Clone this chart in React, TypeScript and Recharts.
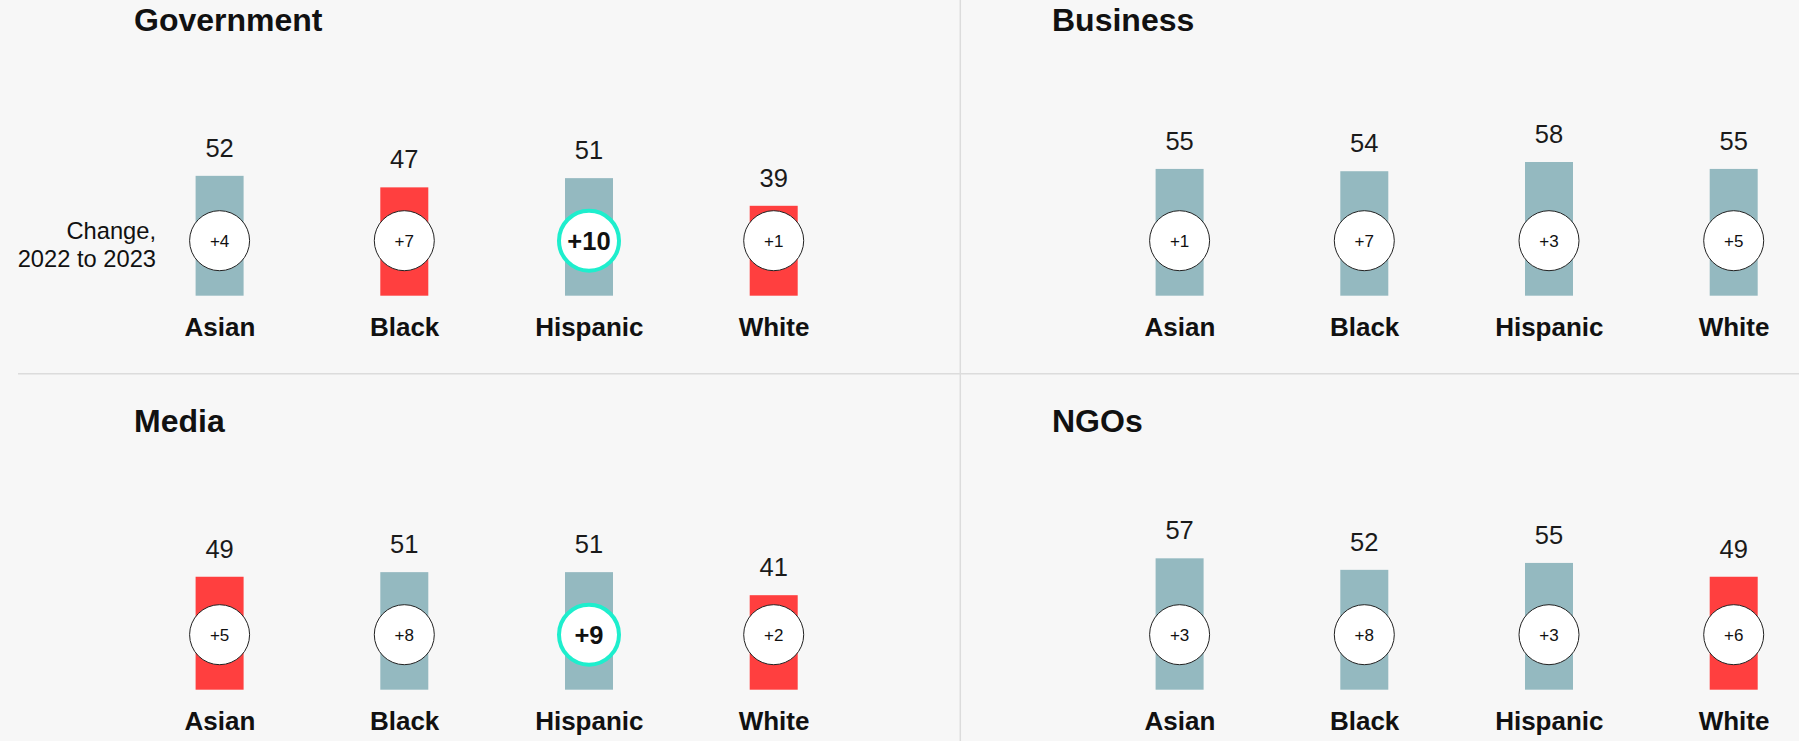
import React from 'react';
import { BarChart, Bar, XAxis, YAxis } from 'recharts';

const categories = ['Asian', 'Black', 'Hispanic', 'White'];

const governmentTrust = [52, 47, 51, 39];
const governmentChange = [4, 7, 10, 1];
const businessTrust = [55, 54, 58, 55];
const businessChange = [1, 7, 3, 5];
const mediaTrust = [49, 51, 51, 41];
const mediaChange = [5, 8, 9, 2];
const ngosTrust = [57, 52, 55, 49];
const ngosChange = [3, 8, 3, 6];

const governmentHighlight = ['Hispanic'];
const businessHighlight: string[] = [];
const mediaHighlight = ['Hispanic'];
const ngosHighlight: string[] = [];

const TRUST_THRESHOLD = 50;

const FONT = '"Liberation Sans", Arial, Helvetica, sans-serif';
const TEAL = '#94b9c0';
const RED = '#ff3f3f';
const MINT = '#1eeecd';
const BG = '#f7f7f7';
const DIVIDER = '#dcdcdc';

type Row = { name: string; value: number; change: number; highlight: boolean };

function buildRows(values: number[], changes: number[], highlight: string[]): Row[] {
  return categories.map((name, i) => ({
    name,
    value: values[i],
    change: changes[i],
    highlight: highlight.includes(name),
  }));
}

const BarShape = (props: any) => {
  const { x, y, width, height, payload } = props;
  const cx = x + width / 2;
  const bottom = y + height;
  const cy = bottom - 55;
  const fill = payload.value < TRUST_THRESHOLD ? RED : TEAL;
  return (
    <g>
      <rect x={x} y={y} width={width} height={height} fill={fill} />
      <text
        x={cx}
        y={y - 19}
        textAnchor="middle"
        fontFamily={FONT}
        fontSize={25.5}
        fill="#1a1a1a"
      >
        {payload.value}
      </text>
      {payload.highlight ? (
        <g>
          <circle cx={cx} cy={cy} r={30} fill="#ffffff" stroke={MINT} strokeWidth={4} />
          <text
            x={cx}
            y={cy + 9}
            textAnchor="middle"
            fontFamily={FONT}
            fontSize={25.5}
            fontWeight="bold"
            fill="#111"
          >
            {'+' + payload.change}
          </text>
        </g>
      ) : (
        <g>
          <circle cx={cx} cy={cy} r={30} fill="#ffffff" stroke="#222" strokeWidth={1} />
          <text
            x={cx}
            y={cy + 6.5}
            textAnchor="middle"
            fontFamily={FONT}
            fontSize={17}
            fill="#111"
          >
            {'+' + payload.change}
          </text>
        </g>
      )}
    </g>
  );
};

const CategoryTick = (props: any) => {
  const { x, y, payload } = props;
  return (
    <text
      x={x}
      y={y + 40.3}
      textAnchor="middle"
      fontFamily={FONT}
      fontSize={26}
      fontWeight="bold"
      fill="#111"
    >
      {payload.value}
    </text>
  );
};

const Panel = ({ rows, left, top }: { rows: Row[]; left: number; top: number }) => (
  <div style={{ position: 'absolute', left, top, width: 960, height: 373 }}>
    <BarChart
      width={960}
      height={373}
      data={rows}
      margin={{ top: 65.2, right: 93.6, left: 127.6, bottom: 37.3 }}
    >
      <XAxis
        dataKey="name"
        height={40}
        axisLine={false}
        tickLine={false}
        tickSize={0}
        tickMargin={0}
        interval={0}
        tick={<CategoryTick />}
      />
      <YAxis hide domain={[0, 100]} />
      <Bar dataKey="value" barSize={48} isAnimationActive={false} shape={<BarShape />} />
    </BarChart>
  </div>
);

export default function App() {
  const gov = buildRows(governmentTrust, governmentChange, governmentHighlight);
  const bus = buildRows(businessTrust, businessChange, businessHighlight);
  const med = buildRows(mediaTrust, mediaChange, mediaHighlight);
  const ngo = buildRows(ngosTrust, ngosChange, ngosHighlight);

  const titleStyle = {
    fontFamily: FONT,
    fontSize: 32,
    fontWeight: 'bold' as const,
    fill: '#111',
  };

  return (
    <div
      style={{
        position: 'fixed',
        left: 0,
        top: 0,
        width: 1799,
        height: 741,
        background: BG,
        overflow: 'hidden',
      }}
    >
      <svg
        width={1799}
        height={741}
        style={{ position: 'absolute', left: 0, top: 0 }}
      >
        <line x1={960.3} y1={0} x2={960.3} y2={741} stroke={DIVIDER} strokeWidth={1.5} />
        <line x1={18} y1={373.7} x2={1799} y2={373.7} stroke={DIVIDER} strokeWidth={1.5} />
        <text x={134} y={30.5} {...titleStyle}>Government</text>
        <text x={1052} y={30.5} {...titleStyle}>Business</text>
        <text x={134} y={432.3} {...titleStyle}>Media</text>
        <text x={1052} y={432.3} {...titleStyle}>NGOs</text>
        <text x={156} y={239.3} textAnchor="end" fontFamily={FONT} fontSize={23.7} fill="#111">
          Change,
        </text>
        <text x={156} y={266.7} textAnchor="end" fontFamily={FONT} fontSize={23.7} fill="#111">
          2022 to 2023
        </text>
      </svg>
      <Panel rows={gov} left={0} top={0} />
      <Panel rows={bus} left={960} top={0} />
      <Panel rows={med} left={0} top={394} />
      <Panel rows={ngo} left={960} top={394} />
    </div>
  );
}
